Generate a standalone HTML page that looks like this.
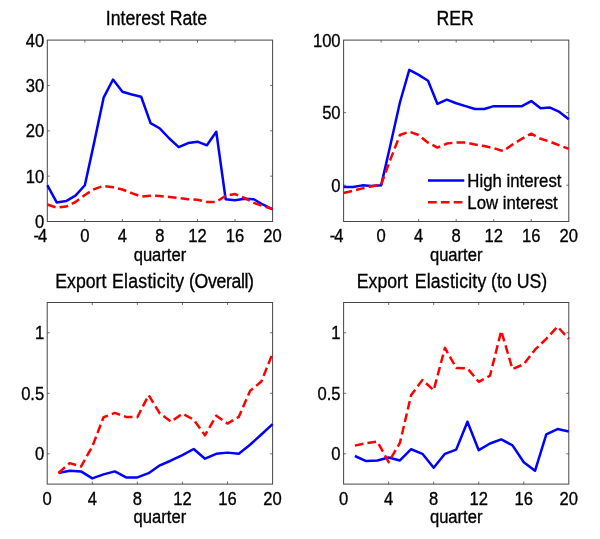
<!DOCTYPE html>
<html><head><meta charset="utf-8"><title>figure</title>
<style>
html,body{margin:0;padding:0;background:#fff;}
body{width:600px;height:539px;overflow:hidden;font-family:"Liberation Sans",sans-serif;}
svg{display:block;will-change:transform;}
svg text{font-family:"Liberation Sans",sans-serif;fill:#000;stroke:#000;stroke-width:0.3px;}
.t{font-size:16.6px;}
.tt{font-size:17.7px;}
.lg{font-size:16.8px;}
</style></head><body>
<svg width="600" height="539" viewBox="0 0 600 539">
<rect x="0" y="0" width="600" height="539" fill="#ffffff"/>
<g>
<defs><clipPath id="c1"><rect x="46.3" y="40.1" width="227.4" height="181.4"/></clipPath></defs>
<text class="tt" transform="translate(156.4 25.3) scale(1 1.15)" text-anchor="middle">Interest Rate</text>
<rect x="47.3" y="40.1" width="225.3" height="181.4" fill="none" stroke="#464646" stroke-width="1"/>
<path d="M84.85 221.5v-2.5 M84.85 40.1v2.5 M122.4 221.5v-2.5 M122.4 40.1v2.5 M159.95 221.5v-2.5 M159.95 40.1v2.5 M197.5 221.5v-2.5 M197.5 40.1v2.5 M235.05 221.5v-2.5 M235.05 40.1v2.5 M47.3 176.15h2.5 M272.6 176.15h-2.5 M47.3 130.8h2.5 M272.6 130.8h-2.5 M47.3 85.45h2.5 M272.6 85.45h-2.5" fill="none" stroke="#4a4a4a" stroke-width="0.8"/>
<polyline clip-path="url(#c1)" points="47.3,185.22 56.69,202.45 66.07,201.09 75.46,195.65 84.85,185.22 94.24,142.14 103.62,97.69 113.01,79.55 122.4,91.8 131.79,94.52 141.18,96.79 150.56,123.09 159.95,128.53 169.34,138.51 178.73,147.13 188.11,143.04 197.5,141.68 206.89,145.31 216.28,131.71 225.66,199.28 235.05,200.19 244.44,198.82 253.82,199.28 263.21,204.72 272.6,209.26" fill="none" stroke="#0000ff" stroke-width="2.5" stroke-linejoin="round"/>
<polyline clip-path="url(#c1)" points="47.3,204.49 56.69,207.67 66.07,206.53 75.46,202 84.85,194.97 94.24,189.07 103.62,185.9 113.01,187.26 122.4,189.53 131.79,193.16 141.18,196.56 150.56,195.65 159.95,196.1 169.34,197.01 178.73,197.92 188.11,199.28 197.5,199.73 206.89,202 216.28,202 225.66,195.65 235.05,194.06 244.44,197.92 253.82,202.91 263.21,206.08 272.6,209.03" fill="none" stroke="#ff0000" stroke-width="2.5" stroke-linejoin="round" stroke-dasharray="8.7 4.15"/>
<text class="t" transform="translate(39.9 242) scale(1 1.1)" text-anchor="middle" letter-spacing="-1">-4</text>
<text class="t" transform="translate(84.85 242) scale(1 1.1)" text-anchor="middle">0</text>
<text class="t" transform="translate(122.4 242) scale(1 1.1)" text-anchor="middle">4</text>
<text class="t" transform="translate(159.95 242) scale(1 1.1)" text-anchor="middle">8</text>
<text class="t" transform="translate(197.5 242) scale(1 1.1)" text-anchor="middle">12</text>
<text class="t" transform="translate(235.05 242) scale(1 1.1)" text-anchor="middle">16</text>
<text class="t" transform="translate(272.6 242) scale(1 1.1)" text-anchor="middle">20</text>
<text class="t" transform="translate(44.3 227.9) scale(1 1.1)" text-anchor="end">0</text>
<text class="t" transform="translate(44.3 182.55) scale(1 1.1)" text-anchor="end">10</text>
<text class="t" transform="translate(44.3 137.2) scale(1 1.1)" text-anchor="end">20</text>
<text class="t" transform="translate(44.3 91.85) scale(1 1.1)" text-anchor="end">30</text>
<text class="t" transform="translate(44.3 46.5) scale(1 1.1)" text-anchor="end">40</text>
<text class="t" transform="translate(159.95 260.7) scale(1 1.1)" text-anchor="middle">quarter</text>
</g>
<g>
<defs><clipPath id="c2"><rect x="342.6" y="40.1" width="227.3" height="181.4"/></clipPath></defs>
<text class="tt" transform="translate(455.1 25.3) scale(1 1.15)" text-anchor="middle">RER</text>
<rect x="343.6" y="40.1" width="225.2" height="181.4" fill="none" stroke="#464646" stroke-width="1"/>
<path d="M381.13 221.5v-2.5 M381.13 40.1v2.5 M418.67 221.5v-2.5 M418.67 40.1v2.5 M456.2 221.5v-2.5 M456.2 40.1v2.5 M493.73 221.5v-2.5 M493.73 40.1v2.5 M531.27 221.5v-2.5 M531.27 40.1v2.5 M343.6 185.22h2.5 M568.8 185.22h-2.5 M343.6 112.66h2.5 M568.8 112.66h-2.5" fill="none" stroke="#4a4a4a" stroke-width="0.8"/>
<polyline clip-path="url(#c2)" points="343.6,186.96 352.98,186.96 362.37,185.37 371.75,186.09 381.13,185.37 390.52,144.59 399.9,102.5 409.28,69.85 418.67,74.93 428.05,80.73 437.43,103.95 446.82,99.6 456.2,103.23 465.58,106.13 474.97,109.03 484.35,109.03 493.73,106.13 503.12,106.13 512.5,106.13 521.88,106.13 531.27,101.05 540.65,108.31 550.03,107.58 559.42,111.93 568.8,119.19" fill="none" stroke="#0000ff" stroke-width="2.5" stroke-linejoin="round"/>
<polyline clip-path="url(#c2)" points="343.6,193.06 352.98,190.73 362.37,188.41 371.75,186.24 381.13,184.64 390.52,159.1 399.9,135.01 409.28,131.67 418.67,135.01 428.05,142.7 437.43,147.63 446.82,143.57 456.2,142.41 465.58,142.41 474.97,144.59 484.35,146.04 493.73,148.21 503.12,151.12 512.5,144.59 521.88,138.78 531.27,133.7 540.65,138.78 550.03,141.68 559.42,145.31 568.8,148.94" fill="none" stroke="#ff0000" stroke-width="2.5" stroke-linejoin="round" stroke-dasharray="8.7 4.15"/>
<text class="t" transform="translate(336.2 242) scale(1 1.1)" text-anchor="middle" letter-spacing="-1">-4</text>
<text class="t" transform="translate(381.13 242) scale(1 1.1)" text-anchor="middle">0</text>
<text class="t" transform="translate(418.67 242) scale(1 1.1)" text-anchor="middle">4</text>
<text class="t" transform="translate(456.2 242) scale(1 1.1)" text-anchor="middle">8</text>
<text class="t" transform="translate(493.73 242) scale(1 1.1)" text-anchor="middle">12</text>
<text class="t" transform="translate(531.27 242) scale(1 1.1)" text-anchor="middle">16</text>
<text class="t" transform="translate(568.8 242) scale(1 1.1)" text-anchor="middle">20</text>
<text class="t" transform="translate(340.6 191.62) scale(1 1.1)" text-anchor="end">0</text>
<text class="t" transform="translate(340.6 119.06) scale(1 1.1)" text-anchor="end">50</text>
<text class="t" transform="translate(340.6 46.5) scale(1 1.1)" text-anchor="end">100</text>
<text class="t" transform="translate(456.2 260.7) scale(1 1.1)" text-anchor="middle">quarter</text>
<path d="M428 180.5H464.3" stroke="#0000ff" stroke-width="2.5" fill="none"/>
<path d="M428 202.3H464.3" stroke="#ff0000" stroke-width="2.5" fill="none" stroke-dasharray="8.7 4.15"/>
<text class="lg" transform="translate(467.3 187) scale(1 1.1)">High interest</text>
<text class="lg" transform="translate(467.3 208.8) scale(1 1.1)">Low interest</text>
</g>
<g>
<defs><clipPath id="c3"><rect x="46.2" y="302.5" width="227.5" height="181.6"/></clipPath></defs>
<text class="tt" transform="translate(0 287.7) scale(1 1.15)"><tspan x="55.3">Export</tspan><tspan x="111.9" letter-spacing="0.27">Elasticity</tspan><tspan x="189" letter-spacing="-0.35">(Overall)</tspan></text>
<rect x="47.2" y="302.5" width="225.4" height="181.6" fill="none" stroke="#464646" stroke-width="1"/>
<path d="M92.28 484.1v-2.5 M92.28 302.5v2.5 M137.36 484.1v-2.5 M137.36 302.5v2.5 M182.44 484.1v-2.5 M182.44 302.5v2.5 M227.52 484.1v-2.5 M227.52 302.5v2.5 M47.2 453.83h2.5 M272.6 453.83h-2.5 M47.2 393.3h2.5 M272.6 393.3h-2.5 M47.2 332.77h2.5 M272.6 332.77h-2.5" fill="none" stroke="#4a4a4a" stroke-width="0.8"/>
<polyline clip-path="url(#c3)" points="58.47,472.96 69.74,470.78 81.01,471.39 92.28,478.41 103.55,474.41 114.82,471.39 126.09,477.44 137.36,477.44 148.63,473.2 159.9,465.33 171.17,460.49 182.44,455.04 193.71,448.99 204.98,458.68 216.25,453.83 227.52,452.62 238.79,453.83 250.06,444.75 261.33,434.46 272.6,424.17" fill="none" stroke="#0000ff" stroke-width="2.5" stroke-linejoin="round"/>
<polyline clip-path="url(#c3)" points="58.47,472.96 69.74,463.16 81.01,466.55 92.28,446.57 103.55,417.27 114.82,412.91 126.09,416.91 137.36,417.15 148.63,395.12 159.9,413.52 171.17,421.75 182.44,413.52 193.71,419.69 204.98,435.31 216.25,415.7 227.52,423.57 238.79,416.91 250.06,390.88 261.33,381.56 272.6,353.35" fill="none" stroke="#ff0000" stroke-width="2.5" stroke-linejoin="round" stroke-dasharray="8.7 4.15"/>
<text class="t" transform="translate(47.2 504.6) scale(1 1.1)" text-anchor="middle">0</text>
<text class="t" transform="translate(92.28 504.6) scale(1 1.1)" text-anchor="middle">4</text>
<text class="t" transform="translate(137.36 504.6) scale(1 1.1)" text-anchor="middle">8</text>
<text class="t" transform="translate(182.44 504.6) scale(1 1.1)" text-anchor="middle">12</text>
<text class="t" transform="translate(227.52 504.6) scale(1 1.1)" text-anchor="middle">16</text>
<text class="t" transform="translate(272.6 504.6) scale(1 1.1)" text-anchor="middle">20</text>
<text class="t" transform="translate(44.2 460.23) scale(1 1.1)" text-anchor="end">0</text>
<text class="t" transform="translate(44.2 399.7) scale(1 1.1)" text-anchor="end">0.5</text>
<text class="t" transform="translate(44.2 339.17) scale(1 1.1)" text-anchor="end">1</text>
<text class="t" transform="translate(159.9 523.3) scale(1 1.1)" text-anchor="middle">quarter</text>
</g>
<g>
<defs><clipPath id="c4"><rect x="342.6" y="302.5" width="227.3" height="181.6"/></clipPath></defs>
<text class="tt" transform="translate(0 287.7) scale(1 1.15)"><tspan x="356.8">Export</tspan><tspan x="414.7" letter-spacing="0.2">Elasticity</tspan><tspan x="491.1">(to US)</tspan></text>
<rect x="343.6" y="302.5" width="225.2" height="181.6" fill="none" stroke="#464646" stroke-width="1"/>
<path d="M388.64 484.1v-2.5 M388.64 302.5v2.5 M433.68 484.1v-2.5 M433.68 302.5v2.5 M478.72 484.1v-2.5 M478.72 302.5v2.5 M523.76 484.1v-2.5 M523.76 302.5v2.5 M343.6 453.83h2.5 M568.8 453.83h-2.5 M343.6 393.3h2.5 M568.8 393.3h-2.5 M343.6 332.77h2.5 M568.8 332.77h-2.5" fill="none" stroke="#4a4a4a" stroke-width="0.8"/>
<polyline clip-path="url(#c4)" points="354.86,456.01 366.12,461.1 377.38,460.49 388.64,457.47 399.9,460.49 411.16,449.23 422.42,453.83 433.68,467.76 444.94,453.83 456.2,449.6 467.46,421.75 478.72,450.2 489.98,443.54 501.24,439.31 512.5,445.36 523.76,462.31 535.02,470.78 546.28,434.46 557.54,429.01 568.8,431.44" fill="none" stroke="#0000ff" stroke-width="2.5" stroke-linejoin="round"/>
<polyline clip-path="url(#c4)" points="354.86,445.6 366.12,443.18 377.38,441.61 388.64,462.07 399.9,442.94 411.16,395.12 422.42,379.98 433.68,390.27 444.94,347.9 456.2,367.88 467.46,368.48 478.72,381.8 489.98,375.75 501.24,330.95 512.5,369.09 523.76,364.24 535.02,349.72 546.28,338.82 557.54,326.71 568.8,338.82" fill="none" stroke="#ff0000" stroke-width="2.5" stroke-linejoin="round" stroke-dasharray="8.7 4.15"/>
<text class="t" transform="translate(343.6 504.6) scale(1 1.1)" text-anchor="middle">0</text>
<text class="t" transform="translate(388.64 504.6) scale(1 1.1)" text-anchor="middle">4</text>
<text class="t" transform="translate(433.68 504.6) scale(1 1.1)" text-anchor="middle">8</text>
<text class="t" transform="translate(478.72 504.6) scale(1 1.1)" text-anchor="middle">12</text>
<text class="t" transform="translate(523.76 504.6) scale(1 1.1)" text-anchor="middle">16</text>
<text class="t" transform="translate(568.8 504.6) scale(1 1.1)" text-anchor="middle">20</text>
<text class="t" transform="translate(340.6 460.23) scale(1 1.1)" text-anchor="end">0</text>
<text class="t" transform="translate(340.6 399.7) scale(1 1.1)" text-anchor="end">0.5</text>
<text class="t" transform="translate(340.6 339.17) scale(1 1.1)" text-anchor="end">1</text>
<text class="t" transform="translate(456.2 523.3) scale(1 1.1)" text-anchor="middle">quarter</text>
</g>
</svg>
</body></html>
